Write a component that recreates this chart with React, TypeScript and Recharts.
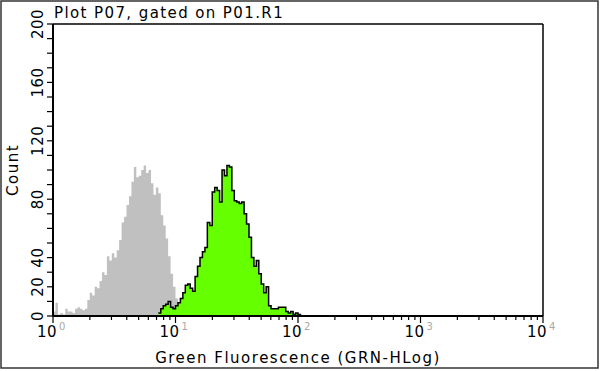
import { Area, ComposedChart, ReferenceLine, XAxis, YAxis } from 'recharts';

// histogram bins, 0.02 decades wide
const BIN = 0.02;
const grayStartBin = 0; // 10^0
const grayCounts = [
  3, 9, 1, 2, 1, 5, 3, 3, 2, 5, 6, 5, 4, 5, 11, 16, 14, 20, 19, 24, 30, 28, 41, 38, 43, 40, 45, 52,
  64, 68, 76, 82, 92, 102, 95, 96, 100, 103, 98, 100, 91, 83, 88, 84, 69, 62, 53, 41, 29, 20, 12, 6, 3, 1,
];
const greenStartBin = 43; // 10^0.86
const greenCounts = [
  2, 5, 7, 8, 10, 6, 5, 7, 9, 12, 16, 21, 22, 19, 17, 27, 34, 40, 44, 47, 64, 62, 85, 88, 86, 78, 100,
  96, 103, 102, 86, 79, 78, 77, 78, 70, 63, 54, 40, 34, 38, 29, 22, 16, 20, 7, 5, 5, 5, 6, 6, 6, 3, 2, 3,
  1, 2, 1,
];

const xMajor = [0, 1, 2, 3, 4];
const yTicks = [0, 10, 20, 30, 40, 50, 60, 70, 80, 90, 100, 110, 120, 130, 140, 150, 160, 170, 180, 190, 200];
const yLabeled = [0, 20, 40, 80, 120, 160, 200];

const TITLE = 'Plot P07, gated on P01.R1';
const X_LABEL = 'Green Fluorescence (GRN-HLog)';
const Y_LABEL = 'Count';

const FONT = '"DejaVu Sans", Verdana, sans-serif';

const pick = (arr: number[], i: number) => {
  if (i < 0) return null;
  if (i < arr.length) return arr[i];
  if (i === arr.length) return 0;
  return null;
};

const data = Array.from({ length: 201 }, (_, i) => ({
  x: Math.round(i * BIN * 100) / 100,
  gray: pick(grayCounts, i - grayStartBin),
  green: pick(greenCounts, i - greenStartBin),
}));

const xTicks: number[] = [];
for (let d = 0; d < 4; d++) {
  xTicks.push(d);
  for (let k = 2; k <= 9; k++) xTicks.push(d + Math.log10(k));
}
xTicks.push(4);

const XTick = (props: any) => {
  const { x, y, payload } = props;
  const v = payload.value as number;
  const major = xMajor.some((m) => Math.abs(m - v) < 1e-6);
  return (
    <g>
      <line x1={x} x2={x} y1={y} y2={y + (major ? 7 : 4)} stroke="#000" strokeWidth={1.2} />
      {major && (
        <>
          <text x={x + 4} y={y + 21} textAnchor="end" fontFamily={FONT} fontSize={15} letterSpacing={0.5} fill="#000">
            10
          </text>
          <text x={x + 6} y={y + 14} fontFamily={FONT} fontSize={10} fill="#a8a8a8">
            {Math.round(v)}
          </text>
        </>
      )}
    </g>
  );
};

const YTick = (props: any) => {
  const { x, y, payload } = props;
  const v = payload.value as number;
  const labeled = yLabeled.includes(v);
  return (
    <g>
      <line x1={x - 6} x2={x} y1={y} y2={y} stroke="#000" strokeWidth={1.2} />
      {labeled && (
        <text
          x={x - 10}
          y={y}
          transform={`rotate(-90 ${x - 10} ${y})`}
          textAnchor="middle"
          fontFamily={FONT}
          fontSize={15}
          letterSpacing={0.5}
          fill="#000"
        >
          {v}
        </text>
      )}
    </g>
  );
};

export default function App() {
  return (
    <div style={{ position: 'relative', width: 600, height: 371, background: '#fff' }}>
      <style>{'body{margin:0}'}</style>
      <ComposedChart width={600} height={371} data={data} margin={{ top: 24, right: 57, bottom: 0, left: 0 }}>
        <XAxis
          dataKey="x"
          type="number"
          domain={[0, 4]}
          ticks={xTicks}
          interval={0}
          height={55}
          tickSize={0}
          tickMargin={0}
          tick={<XTick />}
          axisLine={{ stroke: '#000', strokeWidth: 2 }}
          allowDataOverflow
        />
        <YAxis
          type="number"
          domain={[0, 200]}
          ticks={yTicks}
          interval={0}
          width={53}
          tickSize={0}
          tickMargin={0}
          tick={<YTick />}
          axisLine={{ stroke: '#000', strokeWidth: 2 }}
          allowDataOverflow
        />
        <Area
          type="stepAfter"
          dataKey="gray"
          stroke="none"
          fill="#c0c0c0"
          fillOpacity={1}
          isAnimationActive={false}
        />
        <Area
          type="stepAfter"
          dataKey="green"
          stroke="#000"
          strokeWidth={1.5}
          fill="#66ff00"
          fillOpacity={1}
          isAnimationActive={false}
        />
        <ReferenceLine y={200} stroke="#000" strokeWidth={1.5} />
        <ReferenceLine x={4} stroke="#000" strokeWidth={1.5} />
      </ComposedChart>
      <svg width={600} height={371} style={{ position: 'absolute', left: 0, top: 0, pointerEvents: 'none' }}>
        <rect x={1} y={1} width={597} height={367} fill="none" stroke="#333" strokeWidth={1.5} />
        <text x={54} y={18} fontFamily={FONT} fontSize={15} letterSpacing={1.4} fill="#000">
          {TITLE}
        </text>
        <text x={298} y={363} textAnchor="middle" fontFamily={FONT} fontSize={15} letterSpacing={1.5} fill="#000">
          {X_LABEL}
        </text>
        <text
          x={18}
          y={170}
          transform="rotate(-90 18 170)"
          textAnchor="middle"
          fontFamily={FONT}
          fontSize={15}
          letterSpacing={1.5}
          fill="#000"
        >
          {Y_LABEL}
        </text>
      </svg>
    </div>
  );
}
